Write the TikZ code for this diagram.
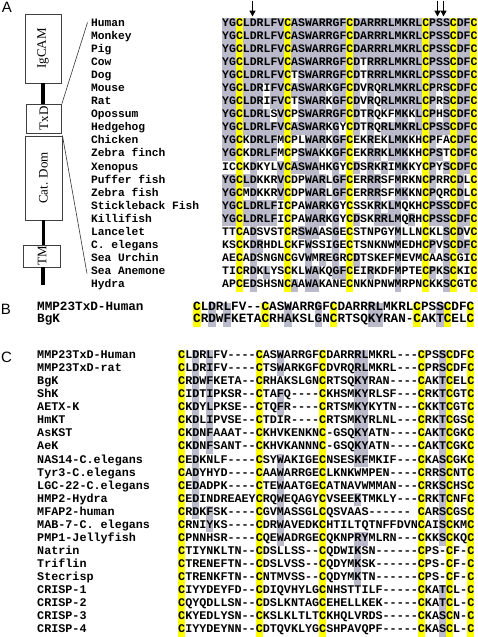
\documentclass[tikz,border=0pt]{standalone}
\usepackage{fontspec}
\setmainfont{Liberation Serif}
\setsansfont{Liberation Sans}
\setmonofont{Liberation Mono}
\usepackage{tikz}
\usetikzlibrary{arrows.meta}

\definecolor{cysyellow}{RGB}{255,255,0}
\definecolor{idgray}{RGB}{186,186,203}

\pgfdeclarelayer{shade}
\pgfdeclarelayer{cys}
\pgfsetlayers{shade,cys,main}

% residue by residue comparison with the human sequence (panel A)
\newcount\rescol
\def\storeref#1{\rescol=0 \storerefloop#1\relax}
\def\storerefloop#1{\ifx#1\relax\else
  \advance\rescol by 1
  \expandafter\def\csname refres\the\rescol\endcsname{#1}%
  \expandafter\storerefloop\fi}
\def\shaderow#1{\rescol=0 \expandafter\shadeloop#1\relax}
\def\shadeloop#1{\ifx#1\relax\else
  \advance\rescol by 1
  \edef\refchar{\csname refres\the\rescol\endcsname}%
  \if#1\refchar
    \fill[idgray] ({222+(\the\rescol-1)*6.9},{\ry-6.52}) rectangle ++(6.9,13.04);
  \fi
  \expandafter\shadeloop\fi}
\storeref{YGCLDRLFVCASWARRGFCDARRRLMKRLCPSSCDFC}

\begin{document}
\begin{tikzpicture}[x=1pt, y=-1pt,
  panel/.style={font=\sffamily\fontsize{15}{15}\selectfont, inner sep=0pt},
  dombox/.style={draw=black!75, line width=0.9pt, inner sep=0pt},
  domname/.style={font=\fontsize{13}{13}\selectfont, rotate=90, inner sep=0pt},
  linker/.style={line width=3.6pt},
  fanline/.style={line width=0.6pt, black!80},
  namesA/.style={font=\ttfamily\bfseries\fontsize{11.25}{11.25}\selectfont, anchor=mid west, inner sep=0pt},
  seqA/.style={font=\ttfamily\bfseries\fontsize{11.5}{11.5}\selectfont, anchor=mid west, inner sep=0pt},
  seqB/.style={font=\ttfamily\bfseries\fontsize{12.66}{12.66}\selectfont, anchor=mid west, inner sep=0pt},
  seqC/.style={font=\ttfamily\bfseries\fontsize{11.75}{11.75}\selectfont, anchor=mid west, inner sep=0pt},
  sitearrow/.style={-{Triangle[length=6pt,width=6pt]}, line width=1.6pt}]

\useasboundingbox (0,0) rectangle (477,637);

% Panel labels
\node[panel] (labA) at (7,7.5) {A};
\node[panel] (labB) at (6,309) {B};
\node[panel] (labC) at (6.5,357) {C};

% Domain organisation
\node[dombox, minimum width=36pt, minimum height=69pt] (igcam) at (43,48.5) {};
\node[dombox, minimum width=35pt, minimum height=29pt] (txd) at (44,118.5) {};
\node[dombox, minimum width=37pt, minimum height=84pt] (catdom) at (43.5,178) {};
\node[dombox, minimum width=37pt, minimum height=22pt] (tm) at (42,256) {};
\node[domname] (igcamtext) at (igcam) {IgCAM};
\node[domname] (txdtext) at (txd) {TxD};
\node[domname] (catdomtext) at (catdom) {Cat. Dom};
\node[domname] (tmtext) at (tm) {TM};
\coordinate (tail) at (43,285);
\draw[linker] (igcam.south) -- (igcam.south |- txd.north);
\draw[linker] (catdom.south) -- (catdom.south |- tm.north);
\draw[linker] (tm.south -| tail) -- (tail);

% Zoom onto the TxD
\coordinate (fantop) at (87.5,22.5);
\coordinate (fanbot) at (87,273.5);
\draw[fanline] (txd.north east) -- (fantop);
\draw[fanline] (catdom.north east) -- (fanbot);

% Panel A: TxD of MMP23 orthologues
\foreach \name/\seq [count=\r] in {
  Human/YGCLDRLFVCASWARRGFCDARRRLMKRLCPSSCDFC,
  Monkey/YGCLDRLFVCASWARRGFCDARRRLMKRLCPSSCDFC,
  Pig/YGCLDRLFVCASWARRGFCDARRRLMKRLCPSSCDFC,
  Cow/YGCLDRLFVCASWARRGFCDTRRRLMKRLCPSSCDFC,
  Dog/YGCLDRLFVCTSWARRGFCDTRRRLMKRLCPSSCDFC,
  Mouse/YGCLDRIFVCASWARKGFCDVRQRLMKRLCPRSCDFC,
  Rat/YGCLDRIFVCTSWARKGFCDVRQRLMKRLCPRSCDFC,
  Opossum/YGCLDRLSVCPSWARRGFCDTRQKFMKKLCPHSCDFC,
  Hedgehog/YGCLDRLFVCASWARKGYCDTRQRLMKRLCPSSCDFC,
  Chicken/YGCKDRLFMCPLWARKGFCEKREKLMKKHCPFACDFC,
  Zebra finch/YGCKDRLFMCPSWAKKGFCEKRRKLMKKHCPSTCDFC,
  Xenopus/ICCKDKYLVCASWAHKGYCDSRKRIMKKYCPYSCDFC,
  Puffer fish/YGCLDKKRVCDPWARLGFCERRRSFMRKNCPRRCDLC,
  Zebra fish/YGCMDKKRVCDPWARLGFCERRRSFMKKNCPQRCDLC,
  Stickleback Fish/YGCLDRLFICPAWARKGYCSSKRKLMQKHCPSSCDFC,
  Killifish/YGCLDRLFICPAWARKGYCDSKRRLMQRHCPSSCDFC,
  Lancelet/TTCADSVSTCRSWAASGECSTNPGYMLLNCKLSCDVC,
  C. elegans/KSCKDRHDLCKFWSSIGECTSNKNWMEDHCPVSCDFC,
  Sea Urchin/AECADSNGNCGVWMREGRCDTSKEFMEVMCAASCGIC,
  Sea Anemone/TICRDKLYSCKLWAKQGFCEIRKDFMPTECPKSCKIC,
  Hydra/APCEDSHSNCAAWAKANECNKNPNWMRPNCKKSCGTC} {
  \pgfmathsetmacro\ry{24.3+(\r-1)*13.04}
  \node[namesA] (spA\r) at (91,\ry) {\name};
  \node[seqA] (alA\r) at (222,\ry) {\seq};
  \begin{pgfonlayer}{shade}
    \shaderow{\seq}
  \end{pgfonlayer}
}
\begin{pgfonlayer}{cys}
  \foreach \c in {3,10,19,30,34,37}
    \fill[cysyellow] ({222+(\c-1)*6.9},17.78) rectangle ++(6.9,273.82);
\end{pgfonlayer}

% Arrows on key residues
\coordinate (siteD) at (252.5,16.5);
\coordinate (siteS1) at (437.5,16.5);
\coordinate (siteS2) at (443.5,16.5);
\foreach \s in {siteD,siteS1,siteS2}
  \draw[sitearrow] (\s) ++(0,-16) coordinate (\s top) -- (\s);

% Panel B: MMP23 TxD against BgK
\node[seqB] (spB1) at (37,308.5) {MMP23TxD-Human};
\node[seqB] (spB2) at (37,320.5) {BgK};
\node[seqB] (alB1) at (193,308.5) {CLDRLFV--CASWARRGFCDARRRLMKRLCPSSCDFC};
\node[seqB] (alB2) at (193,320.5) {CRDWFKETACRHAKSLGNCRTSQKYRAN-CAKTCELC};
\begin{pgfonlayer}{shade}
  \foreach \c in {3,5,13,17,24,25,33}
    \fill[idgray] ({193+(\c-1)*7.6},302.5) rectangle ++(7.6,24);
\end{pgfonlayer}
\begin{pgfonlayer}{cys}
  \foreach \c in {1,10,19,30,34,37}
    \fill[cysyellow] ({193+(\c-1)*7.6},302.5) rectangle ++(7.6,24);
\end{pgfonlayer}

% Panel C: ShK-like domains
\foreach \name/\seq [count=\r] in {
  MMP23TxD-Human/CLDRLFV----CASWARRGFCDARRRLMKRL---CPSSCDFC,
  MMP23TxD-rat/CLDRIFV----CTSWARKGFCDVRQRLMKRL---CPRSCDFC,
  BgK/CRDWFKETA--CRHAKSLGNCRTSQKYRAN----CAKTCELC,
  ShK/CIDTIPKSR--CTAFQ----CKHSMKYRLSF---CRKTCGTC,
  AETX-K/CKDYLPKSE--CTQFR----CRTSMKYKYTN---CKKTCGTC,
  HmKT/CKDLIPVSE--CTDIR----CRTSMKYRLNL---CRKTCGSC,
  AsKST/CKDNFAAAT--CKHVKENKNC-GSQKYATN----CAKTCGKC,
  AeK/CKDNFSANT--CKHVKANNNC-GSQKYATN----CAKTCGKC,
  NAS14-C.elegans/CEDKNLF----CSYWAKIGECNSESKFMKIF---CKASCGKC,
  Tyr3-C.elegans/CADYHYD----CAAWARRGECLKNKWMPEN----CRRSCNTC,
  LGC-22-C.elegans/CEDADPK----CTEWAATGECATNAVWMMAN---CRKSCHSC,
  HMP2-Hydra/CEDINDREAEYCRQWEQAGYCVSEEKTMKLY---CRKTCNFC,
  MFAP2-human/CRDKFSK----CGVMASSGLCQSVAAS------~CARSCGSC,
  MAB-7-C. elegans/CRNIYKS----CDRWAVEDKCHTILTQTNFFDVNCAISCKMC,
  PMP1-Jellyfish/CPNNHSR----CQEWADRGECQKNPRYMLRN---CKKSCKQC,
  Natrin/CTIYNKLTN--CDSLLSS--CQDWIKSN------CPS-CF-C,
  Triflin/CTRENEFTN--CDSLVSS--CQDYMKSK------CPS-CF-C,
  Stecrisp/CTRENKFTN--CNTMVSS--CQDYMKTN------CPS-CF-C,
  CRISP-1/CIYYDEYFD--CDIQVHYLGCNHSTTILF-----CKATCL-C,
  CRISP-2/CQYQDLLSN--CDSLKNTAGCEHELLKEK-----CKATCL-C,
  CRISP-3/CKYEDLYSN--CKSLKLTLTCKHQLVRDS-----CKASCN-C,
  CRISP-4/CIYYDEYNN--CDTQVKLYGCSHPAVQPF-----CKASCL-C} {
  \pgfmathsetmacro\ry{356.3+(\r-1)*13.05}
  \node[seqC] (spC\r) at (37,\ry) {\name};
  \node[seqC] (alC\r) at (178,\ry) {\seq};
}
\begin{pgfonlayer}{shade}
  \foreach \c/\rows in {3/{1,...,13}, 5/{1,...,8,13,14},
      15/{1,2,4,5,9,10,11,12,13,14,15}, 26/{1,...,9,12,15,16,17,18},
      27/{1,...,9,15}, 38/{1,...,15,19,20,21,22}}
    \foreach \r in \rows
      \fill[idgray] ({178+(\c-1)*7.05},{349.78+(\r-1)*13.05}) rectangle ++(7.05,13.05);
\end{pgfonlayer}
\begin{pgfonlayer}{cys}
  \foreach \c in {1,12,21,35,39,42}
    \fill[cysyellow] ({178+(\c-1)*7.05},349.78) rectangle ++(7.05,287.1);
\end{pgfonlayer}

\end{tikzpicture}
\end{document}
